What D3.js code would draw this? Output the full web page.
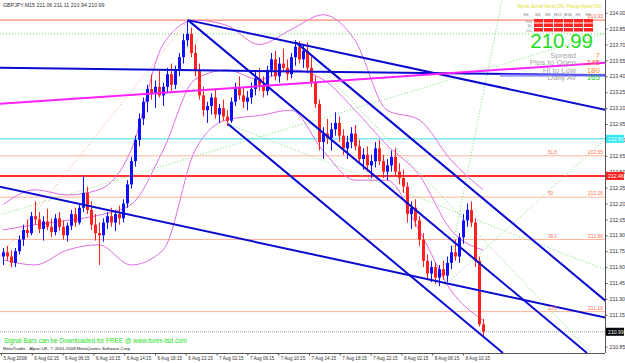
<!DOCTYPE html>
<html>
<head>
<meta charset="utf-8">
<script src="https://cdn.jsdelivr.net/npm/d3@7"></script>
<style>
body { margin:0; background:#fff; }
text { font-family: "Liberation Sans", Arial, sans-serif; }
</style>
</head>
<body>
<script>
// GBPJPY 30 min candles
var open  = [211.70,211.74,211.70,211.64,211.75,211.86,211.95,211.92,212.08,212.05,211.96,212.03,211.98,211.93,212.06,211.98,211.90,211.99,212.10,212.02,
             212.16,212.30,212.14,212.00,211.92,211.90,212.02,212.08,212.02,212.10,212.06,212.20,212.38,212.60,212.80,213.00,213.16,213.28,213.24,213.30,
             213.22,213.30,213.42,213.32,213.46,213.58,213.74,213.80,213.62,213.46,213.22,213.08,213.12,213.20,213.04,213.10,213.02,212.98,213.16,213.30,
             213.22,213.16,213.20,213.28,213.38,213.32,213.26,213.46,213.56,213.40,213.52,213.48,213.42,213.58,213.68,213.56,213.64,213.48,213.34,213.14,
             212.78,212.86,212.82,212.90,212.96,212.84,212.72,212.78,212.86,212.74,212.62,212.66,212.56,212.60,212.72,212.60,212.50,212.56,212.64,212.50,
             212.44,212.36,212.10,212.16,212.04,211.86,211.66,211.54,211.60,211.50,211.58,211.52,211.64,211.74,211.70,211.88,212.04,212.14,212.02,211.66,211.06];
var high  = [211.78,211.80,211.76,211.78,211.90,212.00,212.05,212.12,212.22,212.12,212.08,212.15,212.06,212.10,212.12,212.04,212.02,212.14,212.16,212.20,
             212.46,212.36,212.22,212.10,212.02,212.06,212.12,212.16,212.14,212.18,212.24,212.42,212.64,212.84,213.05,213.20,213.32,213.42,213.36,213.45,
             213.34,213.48,213.52,213.50,213.62,213.80,213.93,213.86,213.70,213.52,213.30,213.16,213.24,213.28,213.14,213.18,213.08,213.20,213.34,213.40,
             213.30,213.26,213.34,213.44,213.48,213.40,213.50,213.62,213.64,213.58,213.66,213.56,213.62,213.74,213.73,213.70,213.72,213.58,213.40,213.18,
             212.92,213.00,212.96,213.06,213.02,212.90,212.84,212.92,212.94,212.80,212.72,212.74,212.66,212.78,212.80,212.66,212.62,212.70,212.72,212.58,
             212.52,212.40,212.22,212.24,212.08,211.92,211.72,211.66,211.64,211.62,211.66,211.70,211.80,211.86,211.92,212.10,212.20,212.22,212.06,211.70,211.11];
var low   = [211.62,211.66,211.60,211.60,211.72,211.80,211.88,211.90,212.00,211.92,211.85,211.95,211.88,211.90,211.94,211.86,211.84,211.95,211.98,212.00,
             212.12,212.10,211.95,211.85,211.62,211.84,211.96,211.98,211.94,212.00,212.02,212.16,212.34,212.55,212.74,212.94,213.06,213.18,213.10,213.20,
             213.12,213.24,213.26,213.28,213.40,213.52,213.68,213.58,213.40,213.18,213.02,212.96,213.04,213.00,212.96,212.98,212.93,212.96,213.12,213.18,
             213.10,213.08,213.14,213.22,213.26,213.20,213.22,213.40,213.36,213.34,213.44,213.36,213.38,213.50,213.52,213.48,213.44,213.30,213.10,212.70,
             212.62,212.76,212.70,212.84,212.78,212.66,212.62,212.72,212.70,212.58,212.52,212.50,212.44,212.54,212.56,212.44,212.42,212.50,212.46,212.38,
             212.30,212.02,211.96,211.98,211.80,211.60,211.48,211.46,211.44,211.42,211.48,211.46,211.58,211.66,211.64,211.82,211.98,211.98,211.60,211.04,210.94];
var close = [211.74,211.70,211.64,211.75,211.86,211.95,211.92,212.08,212.05,211.96,212.03,211.98,211.93,212.06,211.98,211.90,211.99,212.10,212.02,212.16,
             212.30,212.14,212.00,211.92,211.90,212.02,212.08,212.02,212.10,212.06,212.20,212.38,212.60,212.80,213.00,213.16,213.28,213.24,213.30,213.22,
             213.30,213.42,213.32,213.46,213.58,213.74,213.80,213.62,213.46,213.22,213.08,213.12,213.20,213.04,213.10,213.02,212.98,213.16,213.30,213.22,
             213.16,213.20,213.28,213.38,213.32,213.26,213.46,213.56,213.40,213.52,213.48,213.42,213.58,213.68,213.56,213.64,213.48,213.34,213.14,212.78,
             212.86,212.82,212.90,212.96,212.84,212.72,212.78,212.86,212.74,212.62,212.66,212.56,212.60,212.72,212.60,212.50,212.56,212.64,212.50,212.44,
             212.36,212.10,212.16,212.04,211.86,211.66,211.54,211.60,211.50,211.58,211.52,211.64,211.74,211.70,211.88,212.04,212.14,212.02,211.66,211.06,210.99];

// bollinger bands sampled every 8 bars
var bandIdx   = [0,8,16,24,32,40,48,56,64,72,80,88,96,104,112,120];
var bandUpper = [212.19,212.33,212.28,212.33,212.70,213.70,213.93,213.88,213.70,213.84,213.98,213.74,213.08,212.99,212.61,212.33];
var bandMid   = [211.95,212.00,212.04,212.09,212.19,212.70,213.37,213.46,213.37,213.46,213.37,213.08,212.75,212.47,211.95,211.76];
var bandLower = [211.67,211.62,211.76,211.81,211.62,211.76,212.70,212.99,213.03,213.08,212.70,212.42,212.42,211.95,211.38,211.10];

// axis ticks
var priceTicks = [214.00,213.85,213.70,213.55,213.40,213.25,213.10,212.95,212.80,212.65,212.50,212.35,212.20,212.05,211.90,211.75,211.60,211.45,211.30,211.15,210.85];
var timeLabels = ["5 Aug 2008","6 Aug 02:15","6 Aug 06:15","6 Aug 10:15","6 Aug 14:15","6 Aug 18:15","6 Aug 22:15","7 Aug 02:15",
                  "7 Aug 06:15","7 Aug 10:15","7 Aug 14:15","7 Aug 18:15","7 Aug 22:15","8 Aug 02:15","8 Aug 06:15","8 Aug 10:15"];

// trend lines [bar1, price1, bar2, price2]
var blueLines = [[-1,213.48,151,213.41],[46.25,213.93,151,213.08],[46.25,213.93,146,210.79],
                 [73.25,213.72,151,211.27],[56.25,212.95,125,210.79],[-1,212.36,151,211.12]];
var pinkLine = [-1,213.14,151,213.53];
var greenLines = [[-1,212.09,151,213.81],[56.25,212.95,151,211.57],[73.25,213.72,151,210.63],
                  [110.5,211.43,151,212.82],[110.5,211.43,124.75,214.12]];
var fibTrend = [-1,211.69,46.25,213.93];

// fibo levels
var fibLevels = [61.8,50,38.2,23.6];
var fibPrices = [212.65,212.26,211.86,211.18];
var topLevel = 213.93, greenLevel = 213.80, cyanLevel = 212.81, redLevel = 212.46, bidPrice = 210.99;

var W = 625, H = 363, plotR = 605, plotB = 353;

var x = d3.scaleLinear().domain([0,150.5]).range([3,605]);
var y = d3.scaleLinear().domain([214.00,210.85]).range([12.7,346.6]);
var xl = d3.scalePoint().domain(timeLabels).range([1,463]);

var svg = d3.select("body").append("svg").attr("width",W).attr("height",H);
svg.append("rect").attr("width",W).attr("height",H).attr("fill","#fff");

svg.append("clipPath").attr("id","clip").append("rect").attr("width",plotR).attr("height",plotB);
var plot = svg.append("g").attr("clip-path","url(#clip)");

function hline(p, col, w, dash){
  plot.append("line").attr("x1",0).attr("x2",plotR).attr("y1",y(p)).attr("y2",y(p))
    .attr("stroke",col).attr("stroke-width",w).attr("stroke-dasharray",dash||null);
}
function seg(l, col, w, dash){
  plot.append("line").attr("x1",x(l[0])).attr("y1",y(l[1])).attr("x2",x(l[2])).attr("y2",y(l[3]))
    .attr("stroke",col).attr("stroke-width",w).attr("stroke-dasharray",dash||null);
}
hline(topLevel,"#ff6a4a",1);
hline(greenLevel,"#66dd66",1,"1,2");
fibPrices.forEach(function(p){ hline(p,"#ffb49a",1); });
hline(cyanLevel,"#33e0ee",1);
hline(redLevel,"#ff3030",2);
hline(bidPrice,"#a0a0a0",1,"1,1");

greenLines.forEach(function(l){ seg(l,"#77dd77",1,"1,2"); });
seg(fibTrend,"#ffa080",1,"1,2");

// bands
var bandLine = function(arr){
  return d3.line().x(function(d,i){return x(bandIdx[i]);}).y(function(d){return y(d);}).curve(d3.curveMonotoneX)(arr);
};
[bandUpper,bandMid,bandLower].forEach(function(a){
  plot.append("path").attr("d",bandLine(a)).attr("fill","none").attr("stroke","#e070e0").attr("stroke-width",1);
});

// candles
var bars = plot.selectAll(".c").data(close).enter().append("g");
bars.append("line")
  .attr("x1",function(d,i){return Math.round(x(i))+0.5;}).attr("x2",function(d,i){return Math.round(x(i))+0.5;})
  .attr("y1",function(d,i){return y(high[i]);}).attr("y2",function(d,i){return y(low[i]);})
  .attr("stroke",function(d,i){return close[i]>=open[i]?"#1010ff":"#ff2020";}).attr("stroke-width",1);
bars.append("rect")
  .attr("x",function(d,i){return Math.round(x(i))-1;}).attr("width",3)
  .attr("y",function(d,i){return y(Math.max(open[i],close[i]));})
  .attr("height",function(d,i){return Math.max(1,Math.abs(y(open[i])-y(close[i])));})
  .attr("fill",function(d,i){return close[i]>=open[i]?"#1010ff":"#ff2020";});

// trend lines
blueLines.forEach(function(l){ seg(l,"#0a0ad0",2); });
plot.append("line").attr("x1",x(124.25)).attr("x2",plotR).attr("y1",y(blueLines[0][3])).attr("y2",y(blueLines[0][3]))
  .attr("stroke","#7878ff").attr("stroke-width",3).attr("opacity",0.7);
seg(pinkLine,"#ff20ff",2);

// fibo labels
fibLevels.forEach(function(f,i){
  plot.append("text").attr("x",548).attr("y",y(fibPrices[i])-2).attr("font-size",4.5).attr("fill","#ff7050").text(f);
  plot.append("text").attr("x",603).attr("y",y(fibPrices[i])-2).attr("text-anchor","end").attr("font-size",5).attr("fill","#ff7050").text(fibPrices[i].toFixed(2));
});
plot.append("text").attr("x",603).attr("y",y(topLevel)-2).attr("text-anchor","end").attr("font-size",5).attr("fill","#ff7050").text(topLevel.toFixed(2));

// axes frame
svg.append("line").attr("x1",plotR+0.5).attr("x2",plotR+0.5).attr("y1",0).attr("y2",plotB).attr("stroke","#555");
svg.append("line").attr("x1",0).attr("x2",plotR).attr("y1",plotB+0.5).attr("y2",plotB+0.5).attr("stroke","#555");

var yAxis = d3.axisRight(y).tickValues(priceTicks).tickSize(2).tickFormat(d3.format(".2f"));
var ya = svg.append("g").attr("transform","translate("+(plotR+0.5)+",0)").call(yAxis);
ya.select(".domain").remove();
ya.selectAll("text").attr("font-size",5.2).attr("fill","#333").attr("x",4);
ya.selectAll("line").attr("stroke","#555");

// price boxes on axis
function priceBox(p,bg,fg){
  svg.append("rect").attr("x",plotR+1).attr("y",y(p)-4).attr("width",18).attr("height",8).attr("fill",bg);
  svg.append("text").attr("x",plotR+3).attr("y",y(p)+2).attr("font-size",5.2).attr("fill",fg).text(p.toFixed(2));
}
priceBox(cyanLevel,"#33e8f4","#fff");
priceBox(redLevel,"#ff2020","#fff");
priceBox(bidPrice,"#000","#fff");

var xa = svg.append("g").attr("transform","translate(0,"+(plotB+0.5)+")")
  .call(d3.axisBottom(xl).tickSize(2).tickFormat(function(d){return d;}));
xa.select(".domain").remove();
xa.selectAll("text").attr("font-size",4.6).attr("fill","#333").attr("text-anchor","start").attr("x",2).attr("dy","0.3em").attr("y",5);
xa.selectAll("line").attr("stroke","#555");

// header and footer text
svg.append("text").attr("x",3).attr("y",7).attr("font-size",5.3).attr("fill","#333").text("GBPJPY,M15  211.06 211.11 210.94 210.99");
svg.append("text").attr("x",4).attr("y",343).attr("font-size",6.4).attr("fill","#22dd22").text("Signal Bars can be Downloaded for FREE @ www.forex-tsd.com");
svg.append("text").attr("x",3).attr("y",350).attr("font-size",4.4).attr("fill","#222").text("MetaTrader - Alpari UK, \u00a9 2001-2008 MetaQuotes Software Corp.");

// info panel
svg.append("text").attr("x",602).attr("y",8).attr("text-anchor","end").attr("font-size",4.6).attr("fill","#e0e020").text("Alerts:  Email Alerts ON,  Popup Alerts ON.");
var tfs = ["M1","M5","M15","M30","H1","H4"];
var rowsLbl = ["Trnd","Str","Osc"];
tfs.forEach(function(t,i){
  svg.append("text").attr("x",538+i*10).attr("y",16).attr("text-anchor","middle").attr("font-size",4).attr("fill","#777").text(t);
  for (var r=0;r<3;r++) svg.append("rect").attr("x",534+i*10).attr("y",19+r*4.5).attr("width",9).attr("height",3.5).attr("fill","#ff2020");
});
svg.append("text").attr("x",526).attr("y",16).attr("text-anchor","middle").attr("font-size",4).attr("fill","#777").text("H4");
rowsLbl.forEach(function(t,r){
  svg.append("text").attr("x",532).attr("y",22.5+r*4.5).attr("text-anchor","end").attr("font-size",3.5).attr("fill","#888").text(t);
});
svg.append("text").attr("x",593).attr("y",48).attr("text-anchor","end").attr("font-size",20.5).attr("fill","#22dd22").text("210.99");
var infoL = ["Spread","Pips to Open","Hi to Low","Daily Av"], infoV = ["7","145","180","165"], infoC = ["#ff9020","#ff5030","#ff9020","#22cc22"];
infoL.forEach(function(t,i){
  svg.append("text").attr("x",576).attr("y",58+i*7.4).attr("text-anchor","end").attr("font-size",8).attr("fill","#a8a8a8").text(t);
  svg.append("text").attr("x",600).attr("y",58+i*7.4).attr("text-anchor","end").attr("font-size",8).attr("fill",infoC[i]).text(infoV[i]);
});
</script>
</body>
</html>
